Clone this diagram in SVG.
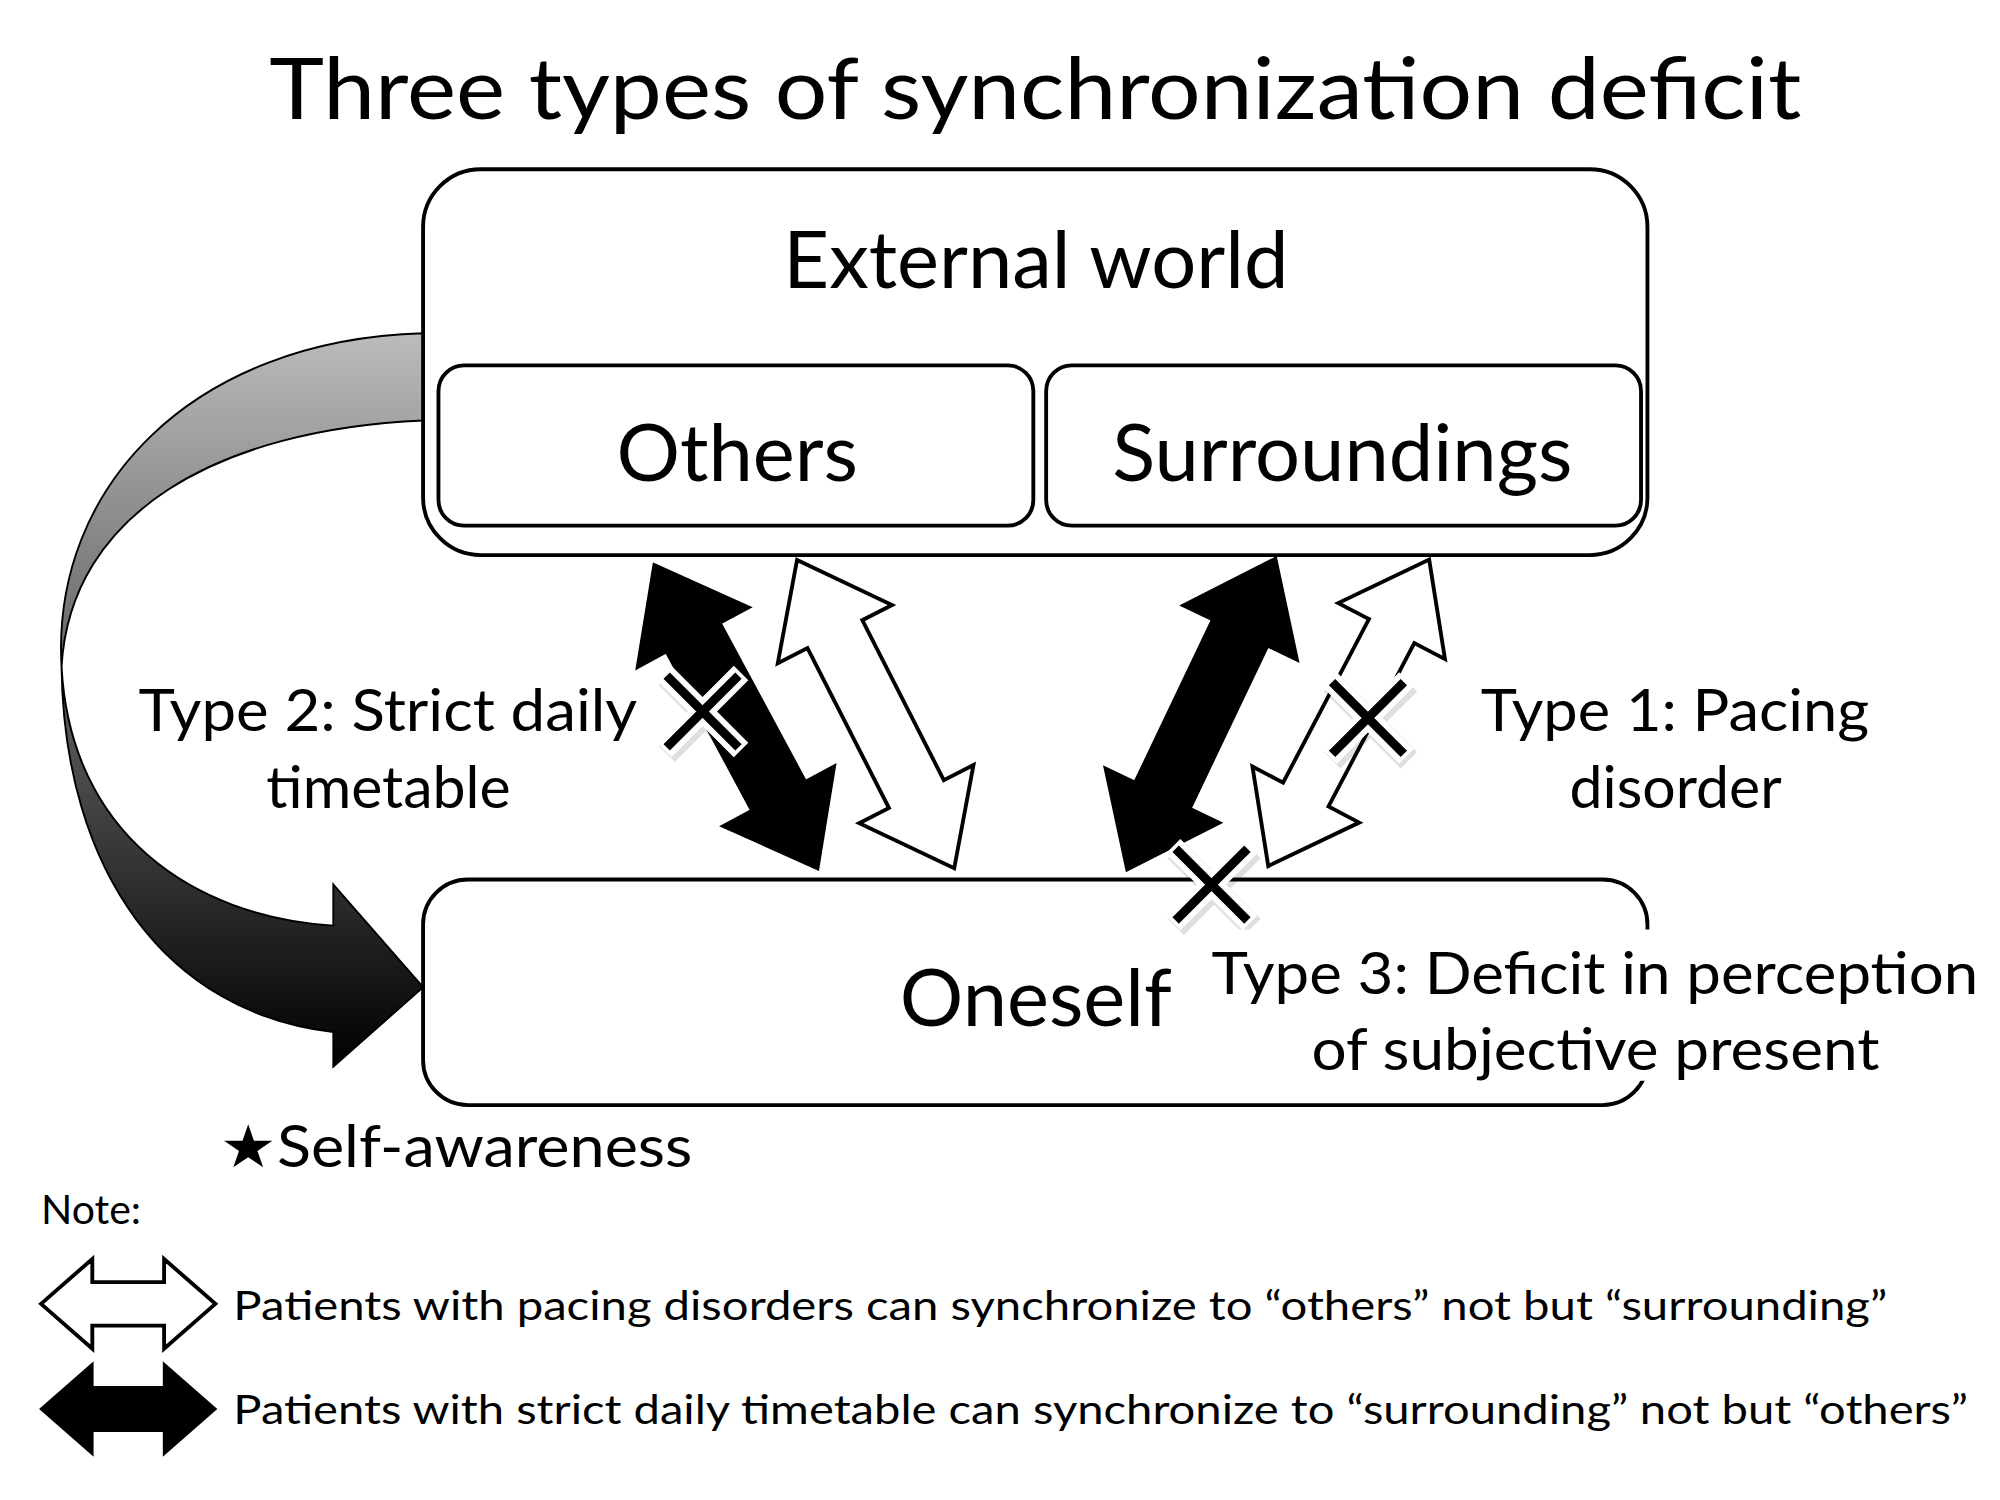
<svg xmlns="http://www.w3.org/2000/svg" width="2000" height="1500" viewBox="0 0 2000 1500">
<defs>
<style>
text{font-family:Lato,"Open Sans","Liberation Sans",sans-serif;fill:#000}
.box{fill:#fff;stroke:#000;stroke-width:3}
.big{font-size:62px;text-anchor:middle}
.lbl{font-size:46px}
.note{font-size:32px}
.wa{fill:#fff;stroke:#000;stroke-width:3;stroke-linejoin:miter}
.ba{fill:#000;stroke:#000;stroke-width:2}
</style>
<linearGradient id="gr" x1="0" y1="0" x2="0" y2="1">
<stop offset="0" stop-color="#bbb"/><stop offset="1" stop-color="#000"/>
</linearGradient>
<path id="dbl" d="M-135,0 L-70,-50 L-70,-24 L70,-24 L70,-50 L135,0 L70,50 L70,24 L-70,24 L-70,50 Z"/>
<path id="dblw" d="M-135,0 L-72,-47 L-72,-20 L72,-20 L72,-47 L135,0 L72,47 L72,20 L-72,20 L-72,47 Z"/>
<g id="xm">
<path d="M-30,-30 L30,30 M30,-30 L-30,30" stroke="#000" stroke-width="18" opacity="0.12" transform="translate(2,3)"/>
<path d="M-30,-30 L30,30 M30,-30 L-30,30" stroke="#fff" stroke-width="16"/>
<path d="M-28,-28 L28,28 M28,-28 L-28,28" stroke="#000" stroke-width="7"/>
</g>
</defs>
<rect width="2000" height="1500" fill="#fff"/>
<g transform="scale(1.28205)">
<text x="210" y="93" font-size="66" textLength="1195" lengthAdjust="spacingAndGlyphs">Three types of synchronization deficit</text>

<g id="connectors">
<path d="M330,260 C150,265 40,380 48,520 C55,650 150,715 260,722 L260,690 L330,770 L260,832 L260,805 C130,790 50,680 48,520 C55,400 170,335 330,328 Z" fill="url(#gr)" stroke="#000" stroke-width="1.5"/>
</g>

<g id="external">
<rect class="box" x="330" y="132" width="955" height="301" rx="45"/>
<text class="big" x="808" y="225">External world</text>
</g>
<g id="others">
<rect class="box" x="342" y="285" width="464" height="125" rx="20"/>
<text class="big" x="575" y="375">Others</text>
</g>
<g id="surroundings">
<rect class="box" x="816" y="285" width="464" height="125" rx="20"/>
<text class="big" x="1047" y="375">Surroundings</text>
</g>
<g id="oneself">
<rect class="box" x="330" y="686" width="955" height="176" rx="35"/>
<text class="big" x="808" y="800">Oneself</text>
</g>

<g id="arrows">
<use href="#dbl" class="ba" transform="translate(574,559) rotate(61.7)"/>
<use href="#dbl" class="wa" transform="translate(683,557) rotate(63)"/>
<use href="#dbl" class="ba" transform="translate(937,557) rotate(115.5)"/>
<use href="#dblw" class="wa" transform="translate(1052,556) rotate(117.7)"/>
<use href="#xm" transform="translate(548,555)"/>
<use href="#xm" transform="translate(1067,560)"/>
<use href="#xm" transform="translate(945,690)"/>
</g>

<g id="labels">
<rect x="940" y="725" width="360" height="118" fill="#fff"/>
<text class="lbl" x="945" y="775" textLength="598" lengthAdjust="spacingAndGlyphs">Type 3: Deficit in perception</text>
<text class="lbl" x="1023" y="835" textLength="443" lengthAdjust="spacingAndGlyphs">of subjective present</text>
<text class="lbl" x="108" y="570" textLength="389" lengthAdjust="spacingAndGlyphs">Type 2: Strict daily</text>
<text class="lbl" x="303" y="630" text-anchor="middle">timetable</text>
<text class="lbl" x="1155" y="570" textLength="303" lengthAdjust="spacingAndGlyphs">Type 1: Pacing</text>
<text class="lbl" x="1307" y="630" text-anchor="middle">disorder</text>
<text class="lbl" x="172" y="910" textLength="368" lengthAdjust="spacingAndGlyphs">★Self-awareness</text>
<text class="note" x="32" y="955">Note:</text>
</g>

<g id="legend">
<path class="wa" d="M32,1017 L72,982 L72,1000 L128,1000 L128,982 L168,1017 L128,1052 L128,1034 L72,1034 L72,1052 Z"/>
<path class="ba" d="M32,1099 L72,1064 L72,1082 L128,1082 L128,1064 L168,1099 L128,1134 L128,1116 L72,1116 L72,1134 Z"/>
<text class="note" x="182" y="1030" textLength="1290" lengthAdjust="spacingAndGlyphs">Patients with pacing disorders can synchronize to “others” not but “surrounding”</text>
<text class="note" x="182" y="1111" textLength="1353" lengthAdjust="spacingAndGlyphs">Patients with strict daily timetable can synchronize to “surrounding” not but “others”</text>
</g>
</g>
</svg>
